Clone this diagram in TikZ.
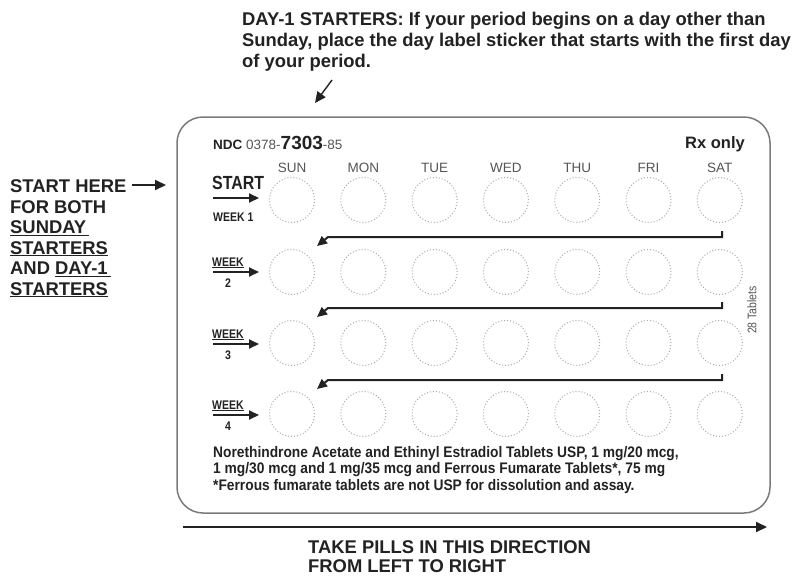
\documentclass[tikz,border=0pt]{standalone}
\usepackage{fontspec}
\setmainfont{Liberation Sans}
\newfontfamily\cond[FakeStretch=0.84]{Liberation Sans}
\newfontfamily\condb[FakeStretch=0.9]{Liberation Sans}
\usetikzlibrary{arrows.meta}
\definecolor{ink}{HTML}{222222}
\definecolor{framec}{HTML}{7A7A7A}
\definecolor{dotc}{HTML}{ABABAB}
\definecolor{dayc}{HTML}{555555}
\begin{document}
\begin{tikzpicture}[x=1pt,y=-1pt,
  txt/.style={inner sep=0pt, anchor=base west, text=ink},
  outer/.style={txt, font=\bfseries\fontsize{18.4}{20}\selectfont},
  pill/.style={circle, draw=dotc, dotted, line width=1pt, minimum size=45pt, inner sep=0pt},
  dayl/.style={inner sep=0pt, anchor=base, text=dayc, font=\fontsize{13.5}{15}\selectfont},
  wk/.style={txt, font=\cond\bfseries\fontsize{12.5}{13}\selectfont},
  bigarrow/.style={ink, line width=2pt, -{Triangle[length=11pt,width=10pt]}},
  smallarrow/.style={ink, line width=2pt, -{Triangle[length=10pt,width=9pt]}},
  retarrow/.style={ink, line width=2pt, -{Triangle[length=10pt,width=9pt]}},
  cardtxt/.style={txt, font=\condb\bfseries\fontsize{15.3}{16}\selectfont}
]
\useasboundingbox (0,0) rectangle (796,576);
\fill[white] (0,0) rectangle (796,576);

% top text
\node[outer] (t1) at (242,25) {DAY-1 STARTERS: If your period begins on a day other than};
\node[outer] (t2) at (242,46) {Sunday, place the day label sticker that starts with the first day};
\node[outer] (t3) at (242,67) {of your period.};
\coordinate (ta) at (332,80);
\coordinate (tb) at (315,103);
\draw[ink, line width=1.4pt, -{Triangle[length=11pt,width=10pt]}] (ta) -- (tb);

% left text
\node[outer] (l1) at (10,192.5) {START HERE};
\node[outer] (l2) at (10,213) {FOR BOTH};
\node[outer] (l3) at (10,233.5) {\underline{SUNDAY\,}};
\node[outer] (l4) at (10,254) {\underline{STARTERS}};
\node[outer] (l5) at (10,274.5) {AND \underline{DAY-1\,}};
\node[outer] (l6) at (10,295) {\underline{STARTERS}};
\coordinate (la) at (132,185);
\coordinate (lb) at (166,185);
\draw[bigarrow] (la) -- (lb);

% card
\draw[framec, line width=1.5pt, rounded corners=26pt] (177,117) rectangle (770,513);

\node[txt, font=\bfseries\fontsize{13.5}{14}\selectfont] (ndc) at (213,149)
  {NDC {\mdseries\color{dayc}0378-}{\fontsize{19}{20}\selectfont 7303}{\mdseries\color{dayc}-85}};
\node[txt, anchor=base east, font=\bfseries\fontsize{16.5}{18}\selectfont] (rx) at (745,148.5) {Rx only};

% day labels and pills
\foreach \d [count=\c from 0] in {SUN,MON,TUE,WED,THU,FRI,SAT} {
  \node[dayl] (day\c) at ({292+71.3*\c},172) {\d};
}
\foreach \r/\yy in {1/200,2/272,3/343,4/414} {
  \foreach \c in {0,...,6} {
    \node[pill] (p\r\c) at ({292+71.3*\c},\yy) {};
  }
}

% week labels
\node[txt, font=\cond\bfseries\fontsize{19}{20}\selectfont] (start) at (212,189) {START};
\node[wk] (w1) at (213,221) {WEEK 1};
\coordinate (s1a) at (213,198);
\coordinate (s1b) at (259,198);
\draw[smallarrow] (s1a) -- (s1b);

\foreach \r/\yy in {2/272,3/344,4/415} {
  \node[wk] (wk\r) at (212,\yy-6) {\underline{WEEK}};
  \node[wk, anchor=base] (wn\r) at (228,\yy+15) {\r};
  \coordinate (wa\r) at (213,\yy);
  \coordinate (wb\r) at (259,\yy);
  \draw[smallarrow] (wa\r) -- (wb\r);
}

% return arrows
\foreach \yy/\nm in {237/a,308/b,380/c} {
  \coordinate (ra\nm) at (722,\yy-6);
  \coordinate (rb\nm) at (722,\yy);
  \coordinate (rc\nm) at (328,\yy);
  \coordinate (rd\nm) at (317,\yy+9);
  \draw[retarrow] (ra\nm) -- (rb\nm) -- (rc\nm) -- (rd\nm);
}

\node[inner sep=0pt, rotate=90, text=dayc, font=\cond\fontsize{12.5}{14}\selectfont] (tabs) at (752,310) {28 Tablets};

% bottom text in card
\node[cardtxt] (b1) at (213,457)
  {Norethindrone Acetate and Ethinyl Estradiol Tablets USP, 1 mg/20 mcg,};
\node[cardtxt] (b2) at (213,473.5)
  {1 mg/30 mcg and 1 mg/35 mcg and Ferrous Fumarate Tablets*, 75 mg};
\node[cardtxt] (b3) at (213,490)
  {*Ferrous fumarate tablets are not USP for dissolution and assay.};

% bottom arrow and text
\coordinate (ba) at (183,527);
\coordinate (bb) at (767,527);
\draw[bigarrow] (ba) -- (bb);
\node[outer] (d1) at (308,553) {TAKE PILLS IN THIS DIRECTION};
\node[outer] (d2) at (308,572) {FROM LEFT TO RIGHT};
\end{tikzpicture}
\end{document}
